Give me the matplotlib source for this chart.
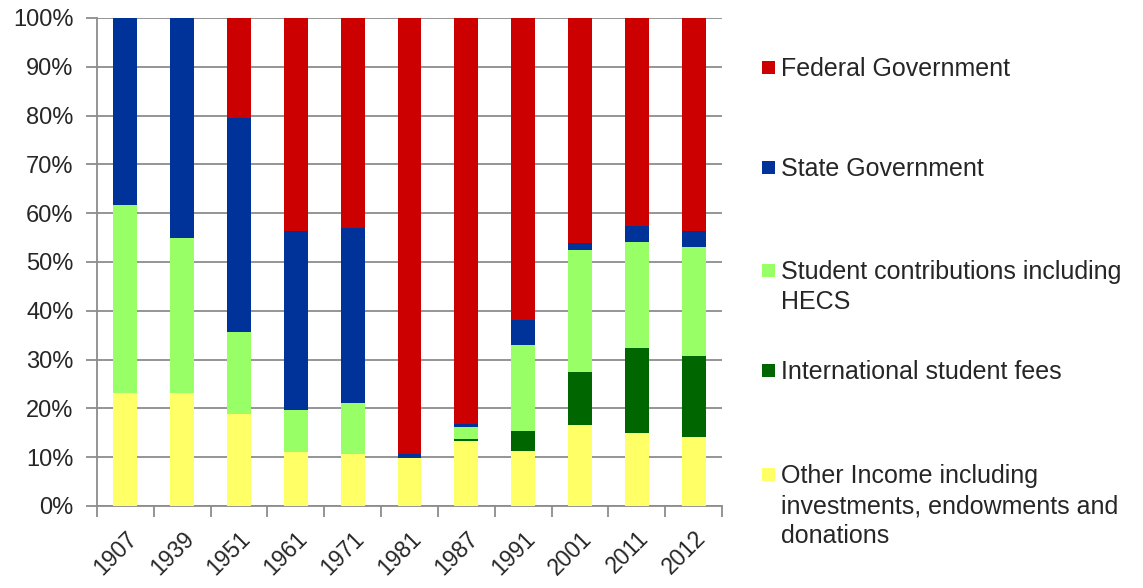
import matplotlib

matplotlib.use("Agg")
import matplotlib.pyplot as plt
import numpy as np
from matplotlib.patches import Rectangle
from matplotlib.ticker import PercentFormatter, FixedLocator

plt.rcParams["font.family"] = ["Liberation Sans", "DejaVu Sans"]

years = ["1907", "1939", "1951", "1961", "1971", "1981",
         "1987", "1991", "2001", "2011", "2012"]

# share of income (%), stacked bottom -> top
other_income = [23.2, 23.2, 18.8, 11.0, 10.6, 9.8, 13.3, 11.3, 16.5, 14.9, 14.1]
intl_fees = [0.0, 0.0, 0.0, 0.0, 0.0, 0.0, 0.4, 4.0, 11.0, 17.4, 16.6]
student_contrib = [38.5, 31.8, 16.9, 8.7, 10.6, 0.0, 2.4, 17.7, 24.9, 21.9, 22.3]
state_gov = [38.3, 45.0, 43.8, 36.6, 35.8, 0.8, 0.8, 5.1, 1.4, 3.2, 3.3]
federal_gov = [0.0, 0.0, 20.5, 43.7, 43.0, 89.4, 83.1, 61.9, 46.2, 42.6, 43.7]

series = [
    ("Other Income including\ninvestments, endowments and\ndonations", other_income, "#FFFF66"),
    ("International student fees", intl_fees, "#006600"),
    ("Student contributions including\nHECS", student_contrib, "#99FF66"),
    ("State Government", state_gov, "#003399"),
    ("Federal Government", federal_gov, "#CC0000"),
]

TEXT = "#262626"
GRID = "#8c8c8c"

fig = plt.figure(figsize=(11.43, 5.88), dpi=100)
ax = fig.add_axes([97 / 1143, 82 / 588, 625 / 1143, 488 / 588])

x = np.arange(len(years))
bottom = np.zeros(len(years))
for label, vals, color in series:
    vals = np.array(vals)
    ax.bar(x, vals, width=0.42, bottom=bottom, color=color, linewidth=0, zorder=3)
    bottom += vals

ax.set_xlim(-0.5, len(years) - 0.5)
ax.set_ylim(0, 100)
ax.set_yticks(np.arange(0, 101, 10))
ax.yaxis.set_major_formatter(PercentFormatter(decimals=0))
ax.grid(axis="y", color=GRID, linewidth=1.3, zorder=0)

ax.set_xticks(x)
ax.set_xticklabels(years, rotation=45, ha="right", rotation_mode="anchor")
ax.xaxis.set_minor_locator(FixedLocator(np.arange(-0.5, len(years), 1.0)))
ax.tick_params(axis="x", which="major", length=0, pad=15, labelsize=16.5, labelcolor=TEXT)
ax.tick_params(axis="x", which="minor", length=8, width=1.3, color=GRID, direction="out")
ax.tick_params(axis="y", length=8, width=1.3, color=GRID, pad=9, labelsize=17, labelcolor=TEXT)

for side in ["top", "right"]:
    ax.spines[side].set_visible(False)
for side in ["left", "bottom"]:
    ax.spines[side].set_color(GRID)
    ax.spines[side].set_linewidth(1.3)

# legend drawn by hand so the marker sits on the first text line
leg_top = [67, 167, 270, 370, 474]
for (label, vals, color), ypix in zip(series[::-1], leg_top):
    fy = 1 - ypix / 588
    fig.patches.append(Rectangle((762 / 1143, fy - 6.5 / 588), 13 / 1143, 13 / 588,
                                 transform=fig.transFigure, facecolor=color,
                                 edgecolor="none"))
    fig.text(781 / 1143, fy + 10 / 588, label, ha="left", va="top", fontsize=18,
             color=TEXT, linespacing=1.32)

fig.savefig("out.png", dpi=100)
